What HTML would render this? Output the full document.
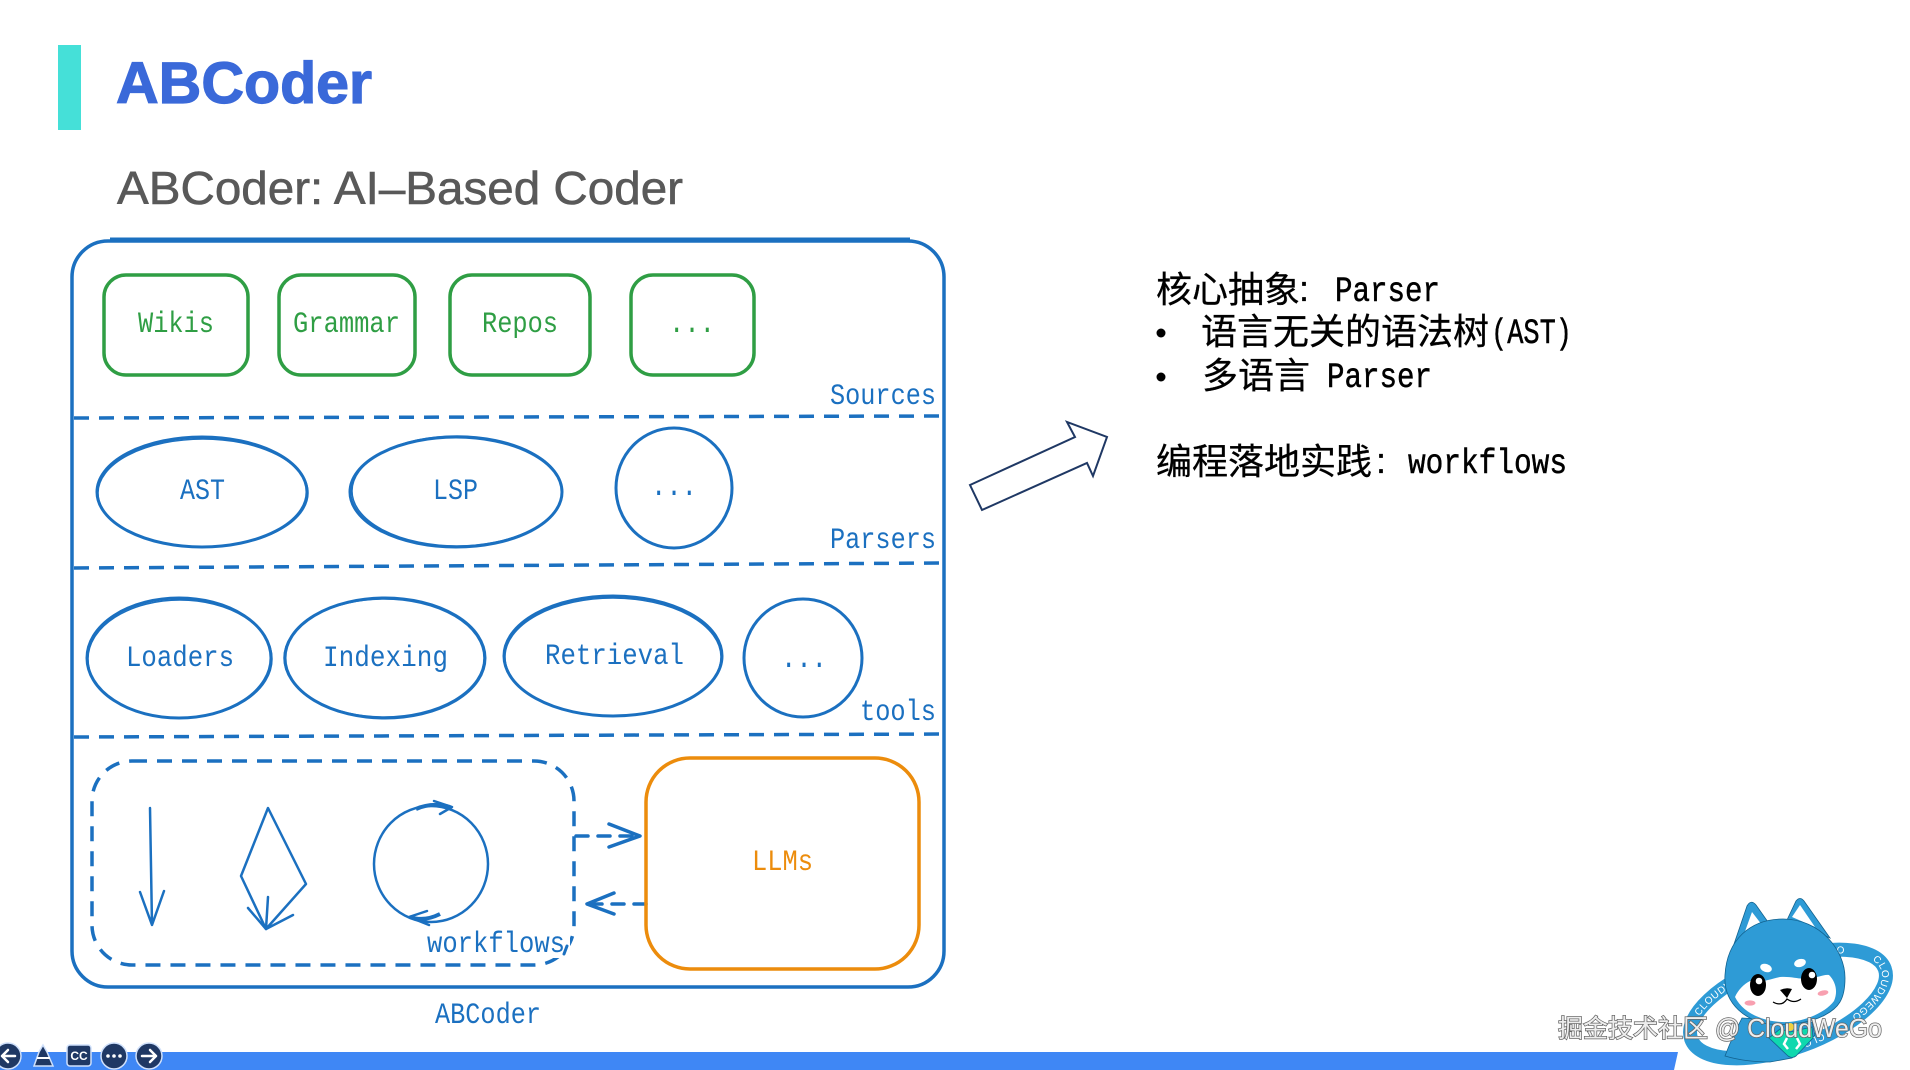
<!DOCTYPE html>
<html lang="zh"><head><meta charset="utf-8"><title>ABCoder</title>
<style>
html,body{margin:0;padding:0;background:#fff;width:1910px;height:1070px;overflow:hidden}
svg{display:block}
.m{font-family:"Liberation Mono",monospace;font-size:30px}
.b{fill:#1b70c0}.g{fill:#2f9e44}.o{fill:#ec8c0c}
.cjk{font-family:"Liberation Sans","Noto Sans CJK SC",sans-serif;font-size:36px;fill:#000;stroke:#000;stroke-width:.3}
.lat{font-family:"Liberation Mono",monospace;font-size:35px;fill:#000;stroke:#000;stroke-width:.5}
.ln{fill:none;stroke:#1b70c0;stroke-width:3;stroke-linecap:round;stroke-linejoin:round}
.gr{fill:none;stroke:#2f9e44;stroke-width:3.5}
.ic{fill:#1f3864;stroke:#cfe0fb;stroke-width:1.5}
.ia{fill:none;stroke:#fff;stroke-width:2.5;stroke-linecap:round;stroke-linejoin:round}
.rt{font-family:"Liberation Sans",sans-serif;font-size:10px;fill:#fff;letter-spacing:.6px}
</style></head><body>
<svg width="1910" height="1070" viewBox="0 0 1910 1070" xmlns="http://www.w3.org/2000/svg">
<rect width="1910" height="1070" fill="#fff"/>
<rect x="58" y="45" width="23" height="85" fill="#45e0d8"/>
<text x="116" y="103" textLength="256" lengthAdjust="spacingAndGlyphs" font-family="Liberation Sans" font-weight="700" font-size="58" fill="#3a69d9" stroke="#3a69d9" stroke-width="1.2">ABCoder</text>
<text x="117" y="204" textLength="566" lengthAdjust="spacingAndGlyphs" font-family="Liberation Sans" font-size="46" fill="#595959" stroke="#595959" stroke-width=".6">ABCoder: AI–Based Coder</text>

<rect x="72" y="241" width="872" height="746" rx="36" fill="none" stroke="#1b70c0" stroke-width="3.5"/>
<path d="M110 240H910" stroke="#1b70c0" stroke-width="5" fill="none"/>
<g fill="none" stroke="#1b70c0" stroke-width="3.5" stroke-dasharray="15 10">
<path d="M74 418L944 416"/><path d="M74 568L944 563"/><path d="M74 737L944 734"/>
</g>

<rect x="104" y="275" width="144" height="100" rx="22" class="gr"/>
<rect x="279" y="275" width="136" height="100" rx="22" class="gr"/>
<rect x="450" y="275" width="140" height="100" rx="22" class="gr"/>
<rect x="631" y="275" width="123" height="100" rx="22" class="gr"/>
<text class="m g" x="138" y="332" textLength="76" lengthAdjust="spacingAndGlyphs">Wikis</text>
<text class="m g" x="293" y="332" textLength="107" lengthAdjust="spacingAndGlyphs">Grammar</text>
<text class="m g" x="482" y="332" textLength="76" lengthAdjust="spacingAndGlyphs">Repos</text>
<text class="m g" x="669" y="332" textLength="46" lengthAdjust="spacingAndGlyphs">...</text>
<text class="m b" x="830" y="404" textLength="106" lengthAdjust="spacingAndGlyphs">Sources</text>

<g class="ln">
<ellipse cx="202" cy="492" rx="105" ry="55"/><ellipse cx="203" cy="493" rx="105" ry="54" style="stroke-width:1.5"/>
<ellipse cx="456" cy="492" rx="106" ry="55"/><ellipse cx="457" cy="491" rx="105" ry="55" style="stroke-width:1.5"/>
<ellipse cx="674" cy="488" rx="58" ry="60"/>
<ellipse cx="179" cy="658" rx="92" ry="60"/><ellipse cx="180" cy="659" rx="92" ry="59" style="stroke-width:1.5"/>
<ellipse cx="385" cy="658" rx="100" ry="60"/><ellipse cx="384" cy="658" rx="100" ry="59" style="stroke-width:1.5"/>
<ellipse cx="613" cy="656" rx="109" ry="60"/><ellipse cx="613" cy="657" rx="108" ry="59" style="stroke-width:1.5"/>
<ellipse cx="803" cy="658" rx="59" ry="59"/>
</g>
<text class="m b" x="180" y="499" textLength="45" lengthAdjust="spacingAndGlyphs">AST</text>
<text class="m b" x="433" y="499" textLength="45" lengthAdjust="spacingAndGlyphs">LSP</text>
<text class="m b" x="651" y="495" textLength="46" lengthAdjust="spacingAndGlyphs">...</text>
<text class="m b" x="830" y="548" textLength="106" lengthAdjust="spacingAndGlyphs">Parsers</text>
<text class="m b" x="126" y="666" textLength="108" lengthAdjust="spacingAndGlyphs">Loaders</text>
<text class="m b" x="323" y="666" textLength="125" lengthAdjust="spacingAndGlyphs">Indexing</text>
<text class="m b" x="545" y="664" textLength="139" lengthAdjust="spacingAndGlyphs">Retrieval</text>
<text class="m b" x="781" y="667" textLength="46" lengthAdjust="spacingAndGlyphs">...</text>
<text class="m b" x="860" y="720" textLength="76" lengthAdjust="spacingAndGlyphs">tools</text>

<rect x="92" y="761" width="482" height="204" rx="40" fill="none" stroke="#1b70c0" stroke-width="3.5" stroke-dasharray="15 10"/>
<rect x="425" y="930" width="145" height="28" fill="#fff"/>
<path class="ln" d="M567 946L564 954"/>
<g class="ln" style="stroke-width:2.5">
<path d="M150 808L152 925M140 892L152 925L164 891"/>
<path d="M268 808L306 884L266 929L241 876Z"/>
<path d="M268 897L266 929M248 908L266 929L293 915"/>
<ellipse cx="431" cy="864" rx="57" ry="58"/>
<path d="M434 801L452 807L440 814M427 911L409 917L429 925"/>
</g>
<path d="M416 809Q432 802 450 807M410 917Q424 922 440 914" fill="none" stroke="#1b70c0" stroke-width="4"/>
<text class="m b" x="427" y="952" textLength="138" lengthAdjust="spacingAndGlyphs">workflows</text>
<g class="ln" style="stroke-width:3.5">
<path d="M576 836H638" stroke-dasharray="12 10"/><path d="M609 824L640 836L609 847"/>
<path d="M646 904H589" stroke-dasharray="12 10"/><path d="M614 893L587 904L614 914"/>
</g>
<rect x="646" y="758" width="273" height="211" rx="44" fill="none" stroke="#ec8c0c" stroke-width="3.5"/>
<text class="m o" x="752" y="870" textLength="61" lengthAdjust="spacingAndGlyphs">LLMs</text>
<text class="m b" x="435" y="1023" textLength="106" lengthAdjust="spacingAndGlyphs">ABCoder</text>

<path d="M970 485L1075 437L1067 422L1107 437L1093 476L1087 463L982 510Z" fill="#fff" stroke="#1f3864" stroke-width="2"/>

<text class="cjk" x="1156" y="302">核心抽象</text>
<text class="cjk" x="1299" y="301">:</text>
<text class="lat" x="1335" y="301" textLength="105" lengthAdjust="spacingAndGlyphs">Parser</text>
<circle cx="1161" cy="333" r="4.5" fill="#000"/>
<text class="cjk" x="1201" y="344">语言无关的语法树</text>
<text class="lat" x="1491" y="343" textLength="81" lengthAdjust="spacingAndGlyphs">(AST)</text>
<circle cx="1161" cy="377" r="4.5" fill="#000"/>
<text class="cjk" x="1202" y="388">多语言</text>
<text class="lat" x="1327" y="387" textLength="105" lengthAdjust="spacingAndGlyphs">Parser</text>
<text class="cjk" x="1156" y="474">编程落地实践</text>
<text class="cjk" x="1376" y="473">:</text>
<text class="lat" x="1408" y="473" textLength="159" lengthAdjust="spacingAndGlyphs">workflows</text>

<path d="M0 1052H1678L1674 1070H0Z" fill="#3f87f5"/>
<circle cx="8" cy="1056" r="13" class="ic"/><path class="ia" d="M15 1056H2M8 1050L2 1056L8 1062"/>
<path d="M43 1045L47 1052L53 1066H34L39 1052Z" class="ic"/><path d="M37 1058H50" stroke="#fff" stroke-width="2"/>
<rect x="67" y="1045" width="24" height="21" rx="3" class="ic"/>
<text x="79" y="1060" text-anchor="middle" font-family="Liberation Sans" font-weight="700" font-size="12" fill="#fff">CC</text>
<circle cx="114" cy="1056" r="13" class="ic"/>
<g fill="#fff"><circle cx="108" cy="1056" r="1.8"/><circle cx="114" cy="1056" r="1.8"/><circle cx="120" cy="1056" r="1.8"/></g>
<circle cx="149" cy="1056" r="13" class="ic"/><path class="ia" d="M142 1056H156M150 1050L156 1056L150 1062"/>

<g transform="rotate(-20 1788 1004)">
<ellipse cx="1788" cy="1004" rx="103" ry="44" fill="none" stroke="#2e9bd6" stroke-width="14"/>
<path id="orb" d="M1689 1004A99 40 0 0 1 1887 1004A99 40 0 0 1 1689 1004" fill="none"/>
<text class="rt"><textPath href="#orb" startOffset="5%">CLOUDWEGO</textPath></text>
<text class="rt"><textPath href="#orb" startOffset="25%">CLOUDWEGO</textPath></text>
<text class="rt"><textPath href="#orb" startOffset="47%">CLOUDWEGO</textPath></text>
<text class="rt"><textPath href="#orb" startOffset="70%">CLOUDWEGO</textPath></text>
</g>
<path d="M1742 1018Q1733 1035 1725 1056Q1745 1062 1770 1062L1792 1058L1815 1035L1812 1022Z" fill="#2e9bd6" stroke="#12628f" stroke-width=".8"/>
<path d="M1732 950L1747 906Q1751 899 1756 905L1768 922Z" fill="#2e9bd6" stroke="#12628f" stroke-width=".8"/>
<path d="M1743 937L1752 912L1762 925Z" fill="#fff"/>
<path d="M1787 920L1796 901Q1800 896 1804 901L1830 938Z" fill="#2e9bd6" stroke="#12628f" stroke-width=".8"/>
<path d="M1792 917L1800 905L1815 927Z" fill="#fff"/>
<path d="M1725 975C1727 940 1750 919 1783 919C1820 919 1845 950 1845 978C1845 1000 1838 1008 1825 1015C1812 1022 1790 1026 1770 1024C1748 1022 1723 1005 1725 975Z" fill="#2e9bd6" stroke="#12628f" stroke-width=".8"/>
<path d="M1735 997C1738 990 1744 984 1750 981C1762 983 1770 979 1780 977C1792 976 1800 980 1808 978C1818 978 1824 974 1829 975C1836 982 1838 992 1834 1001C1826 1012 1806 1021 1788 1022C1768 1023 1744 1015 1735 997Z" fill="#fff"/>
<ellipse cx="1766" cy="968" rx="6" ry="4" fill="#fff" transform="rotate(20 1766 968)"/><ellipse cx="1800" cy="963" rx="6" ry="4" fill="#fff" transform="rotate(-15 1800 963)"/>
<ellipse cx="1758" cy="985" rx="8" ry="11" fill="#000"/><ellipse cx="1809" cy="979" rx="8" ry="11" fill="#000"/>
<circle cx="1759" cy="981" r="3.3" fill="#fff"/><circle cx="1812" cy="975" r="3.3" fill="#fff"/>
<path d="M1780 990Q1786 987 1792 989L1787 998Z" fill="#000"/>
<path d="M1773 1002Q1782 1007 1787 999Q1794 1004 1801 999" fill="none" stroke="#000" stroke-width="1.2"/>
<ellipse cx="1750" cy="1003" rx="5.5" ry="2.6" fill="#f8a0b0"/><ellipse cx="1823" cy="993" rx="5.5" ry="2.6" fill="#f8a0b0" transform="rotate(-12 1823 993)"/>
<circle cx="1790" cy="1027" r="4" fill="#f0d040"/>
<path d="M1769 1038L1780 1029L1790 1032L1812 1027L1813 1038L1796 1056Q1792 1059 1788 1056Z" fill="#0fd8ae" stroke="#12628f" stroke-width=".8"/>
<path d="M1787 1038L1784 1044L1788 1049M1797 1038L1800 1044L1796 1049" fill="none" stroke="#fff" stroke-width="2.5"/>

<text x="1558" y="1037" font-family="Liberation Sans,Noto Sans CJK SC,sans-serif" font-size="25" fill="#eeeeee" stroke="#666" stroke-width="1.5" paint-order="stroke">掘金技术社区</text>
<text x="1715" y="1037" textLength="167" lengthAdjust="spacingAndGlyphs" font-family="Liberation Sans" font-size="26" fill="#eeeeee" stroke="#666" stroke-width="1.5" paint-order="stroke">@ CloudWeGo</text>
</svg>
</body></html>
